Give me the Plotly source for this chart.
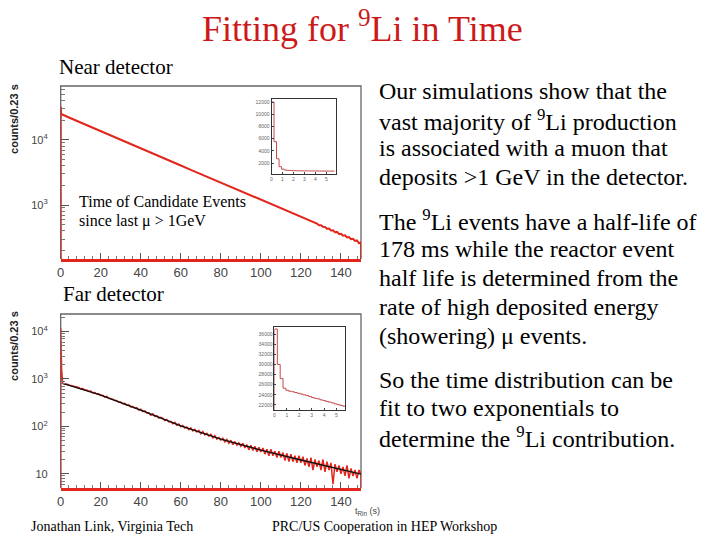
import plotly.graph_objects as go

W, H = 720, 540

# ---------------- data ----------------
BIN = 0.23  # s, histogram bin width (axis label counts/0.23 s)

# Near detector main histogram
near_t = [0, 0, 0.23, 5, 10, 15, 20, 25, 30, 35, 40, 45, 50, 55, 60, 65, 70, 75, 80, 85, 90,
          91, 92, 93, 94, 95, 96, 97, 98, 99, 100,
          101, 102, 103, 104, 105, 106, 107, 108, 109, 110,
          111, 112, 113, 114, 115, 116, 117, 118, 119, 120,
          121, 122, 123, 124, 125, 126, 127, 128, 129, 130,
          131, 132, 133, 134, 135, 136, 137, 138, 139, 140,
          141, 142, 143, 144, 145, 146, 147, 148, 149, 150, 150]
near_counts = [1, 33000, 25100, 21600, 18500, 15900, 13700, 11750, 10100, 8670, 7450, 6400,
               5500, 4720, 4050, 3480, 2990, 2570, 2210, 1900, 1630,
               1590, 1525, 1495, 1450, 1392, 1370, 1310, 1285, 1232, 1210,
               1160, 1140, 1090, 1070, 1025, 1010, 965, 950, 905, 895,
               852, 842, 800, 795, 752, 748, 708, 705, 668, 662,
               628, 625, 590, 588, 555, 552, 522, 520, 490, 488,
               462, 460, 432, 436, 406, 410, 382, 386, 360, 362,
               338, 342, 318, 322, 298, 303, 281, 285, 258, 268, 1]

# Near detector inset (first 5.75 s), bins of 0.23 s
near_inset_counts = [12000, 5500, 2700, 1400, 1000, 860, 800, 770, 750, 740, 730, 722,
                     715, 712, 705, 702, 700, 695, 692, 690, 686, 682, 680, 676, 672]

# Far detector main histogram
far_t = [0, 0, 0.23, 0.46, 0.69, 0.92] + list(range(1, 151)) + [150]
far_counts = [1, 12000, 4000, 1600, 1000, 850,
              812, 770, 781, 745, 728, 700, 694, 660, 662, 620,
              625, 585, 586, 550, 556, 510, 518, 485, 488, 450,
              452, 415, 428, 392, 386, 372, 350, 352, 322, 325,
              300, 305, 280, 286, 258, 262, 242, 248, 220, 230,
              205, 212, 192, 194, 172, 184, 162, 168, 150, 155,
              148, 132, 140, 124, 128, 114, 122, 106, 112, 98,
              104, 92, 97, 85, 93, 80, 87, 76, 82, 70,
              78, 66, 71, 62, 68, 57, 64, 54, 58, 51,
              56, 47, 53, 44, 51, 41, 48, 40, 45, 38,
              44, 35, 41, 32, 40, 31, 38, 29, 36, 29,
              35, 26, 33, 24, 33, 24, 30, 22, 30, 22,
              28, 19, 27, 18, 26, 18, 24, 17, 24, 17,
              23, 15, 21, 14, 22, 12, 20, 14, 19, 12,
              20, 11, 18, 12, 17, 6, 16, 11, 15, 10,
              14, 9, 15, 8, 13, 9, 12, 8, 12, 10, 1]

# Far detector fit (two exponentials), read at a few times
fit_t = [1, 20, 40, 60, 80, 100, 120, 140, 150]
fit_counts = [809, 457, 219, 102, 54, 31.6, 19.5, 12.3, 9.8]

# Far detector inset (first 5.75 s), bins of 0.23 s
far_inset_counts = [37000, 30000, 27200, 25300, 24900, 24700, 24600, 24450, 24300, 24150,
                    24000, 23850, 23650, 23450, 23300, 23200, 23000, 22850, 22700, 22550,
                    22400, 22200, 22050, 21900, 21750]

x_ticks = [0, 20, 40, 60, 80, 100, 120, 140]
near_y_ticks = [1000, 10000]
near_y_text = ["10<sup>3</sup>", "10<sup>4</sup>"]
far_y_ticks = [10, 100, 1000, 10000]
far_y_text = ["10", "10<sup>2</sup>", "10<sup>3</sup>", "10<sup>4</sup>"]
near_inset_yticks = [2000, 4000, 6000, 8000, 10000, 12000]
far_inset_yticks = [22000, 24000, 26000, 28000, 30000, 32000, 34000, 36000]
inset_xticks = [0, 1, 2, 3, 4, 5]

# ---------------- helpers ----------------
def px(x):
    return x / W

def py(y):
    return 1 - y / H

def minor_log(lo, hi):
    vals = []
    d = 1
    while d <= hi:
        for m in range(2, 10):
            v = m * d
            if lo <= v <= hi:
                vals.append(v)
        d *= 10
    return vals

RED = "#e2261b"
INSET_RED = "#c44a4a"
SANS = "Liberation Sans, Arial, sans-serif"
SERIF = "Liberation Serif, Times New Roman, serif"

def edges(n):
    return [0] + [round(BIN * i, 2) for i in range(n + 1)]

fig = go.Figure()

fig.add_trace(go.Scatter(x=near_t, y=near_counts, mode="lines",
                         line=dict(color=RED, width=2), xaxis="x", yaxis="y"))
fig.add_trace(go.Scatter(x=edges(len(near_inset_counts)),
                         y=[0] + near_inset_counts + [near_inset_counts[-1]],
                         mode="lines", line=dict(color=INSET_RED, width=1, shape="hv"),
                         xaxis="x2", yaxis="y2"))
fig.add_trace(go.Scatter(x=far_t, y=far_counts, mode="lines",
                         line=dict(color=RED, width=1.5), xaxis="x3", yaxis="y3"))
fig.add_trace(go.Scatter(x=fit_t, y=fit_counts, mode="lines",
                         line=dict(color="#111111", width=1.4), xaxis="x3", yaxis="y3"))
fig.add_trace(go.Scatter(x=edges(len(far_inset_counts)),
                         y=[0] + far_inset_counts + [far_inset_counts[-1]],
                         mode="lines", line=dict(color=INSET_RED, width=1, shape="hv"),
                         xaxis="x4", yaxis="y4"))

tickfont = dict(family=SANS, size=13, color="#444444")
ytickfont = dict(family=SANS, size=11, color="#444444")
inset_font = dict(family=SANS, size=5, color="#666666")

main_x = dict(range=[0, 150], tickvals=x_ticks, ticks="inside", ticklen=6, tickcolor="#555",
              tickfont=tickfont, showgrid=False, zeroline=False,
              showline=True, linecolor=RED, linewidth=2.5, mirror=False,
              minor=dict(dtick=4, ticks="inside", ticklen=3, tickcolor="#777"))

main_y = dict(type="log", ticks="inside", ticklen=8, tickcolor="#555", tickfont=ytickfont,
              ticklabelstandoff=12, showgrid=False, zeroline=False, showline=False)

inset_common = dict(ticks="inside", ticklen=2, tickfont=inset_font, showgrid=False,
                    zeroline=False, showline=True, linecolor="#333", linewidth=1, mirror=True)

near_dom_x = [px(57), px(359)]
fig.update_layout(
    width=W, height=H, margin=dict(l=0, r=0, t=0, b=0),
    paper_bgcolor="white", plot_bgcolor="white", showlegend=False,
    xaxis=dict(main_x, domain=near_dom_x, anchor="y"),
    yaxis=dict(main_y, range=[2.17, 4.83], domain=[py(259), py(86)], anchor="x",
               tickvals=near_y_ticks, ticktext=near_y_text,
               minor=dict(tickvals=minor_log(140, 68000), ticks="inside", ticklen=4,
                          tickcolor="#777")),
    xaxis2=dict(inset_common, range=[0, 5.9], domain=[px(269), px(334)], anchor="y2",
                tickvals=inset_xticks),
    yaxis2=dict(inset_common, range=[200, 12500], domain=[py(174), py(99)], anchor="x2",
                tickvals=near_inset_yticks, ticktext=[str(v) for v in near_inset_yticks]),
    xaxis3=dict(main_x, domain=near_dom_x, anchor="y3"),
    yaxis3=dict(main_y, range=[0.70, 4.37], domain=[py(488), py(314)], anchor="x3",
                tickvals=far_y_ticks, ticktext=far_y_text,
                minor=dict(tickvals=minor_log(5, 24000), ticks="inside", ticklen=4,
                           tickcolor="#777")),
    xaxis4=dict(inset_common, range=[0, 5.7], domain=[px(272), px(343)], anchor="y4",
                tickvals=inset_xticks),
    yaxis4=dict(inset_common, range=[21000, 37400], domain=[py(410), py(327)], anchor="x4",
                tickvals=far_inset_yticks, ticktext=[str(v) for v in far_inset_yticks]),
)

# frames (top, left, right) of the two main panels
for xr, yr in (("x domain", "y domain"), ("x3 domain", "y3 domain")):
    fig.add_shape(type="path", xref=xr, yref=yr, path="M 0 0 L 0 1 L 1 1 L 1 0",
                  line=dict(color="#666666", width=1.3), layer="below")

def text(x, y, s, size, family=SERIF, color="black", xanchor="left", **kw):
    fig.add_annotation(x=px(x), y=py(y), xref="paper", yref="paper", text=s,
                       showarrow=False, xanchor=xanchor, yanchor="middle",
                       font=dict(family=family, size=size, color=color), **kw)

text(360, 26, "Fitting for <sup>9</sup>Li in Time", 36, color="#cc1a1a", xanchor="center")
text(53, 67, "Near detector", 21)
text(57, 294, "Far detector", 21)
text(73, 201, "Time of Candidate Events", 16)
text(73, 221, "since last μ &gt; 1GeV", 16)

text(10, 119, "<b>counts/0.23 s</b>", 11, family=SANS, color="#222", xanchor="center",
     textangle=-90)
text(10, 346, "<b>counts/0.23 s</b>", 11, family=SANS, color="#222", xanchor="center",
     textangle=-90)
text(380, 511, "t<sub>Rin</sub> (s)", 9, family=SANS, color="#444", xanchor="right")

right_lines = [
    (91, "Our simulations show that the"),
    (120, "vast majority of <sup>9</sup>Li production"),
    (148, "is associated with a muon that"),
    (177, "deposits &gt;1 GeV in the detector."),
    (220, "The <sup>9</sup>Li events have a half-life of"),
    (249, "178 ms while the reactor event"),
    (278, "half life is determined from the"),
    (307, "rate of high deposited energy"),
    (336, "(showering) μ events."),
    (380, "So the time distribution can be"),
    (408, "fit to two exponentials to"),
    (437, "determine the <sup>9</sup>Li contribution."),
]
for y, s in right_lines:
    text(375, y, s, 24)

text(25, 526, "Jonathan Link, Virginia Tech", 14)
text(267, 526, "PRC/US Cooperation in HEP Workshop", 14)

fig.write_html("out.html", config={"displayModeBar": False},
               post_script="document.body.style.margin='0px';")
